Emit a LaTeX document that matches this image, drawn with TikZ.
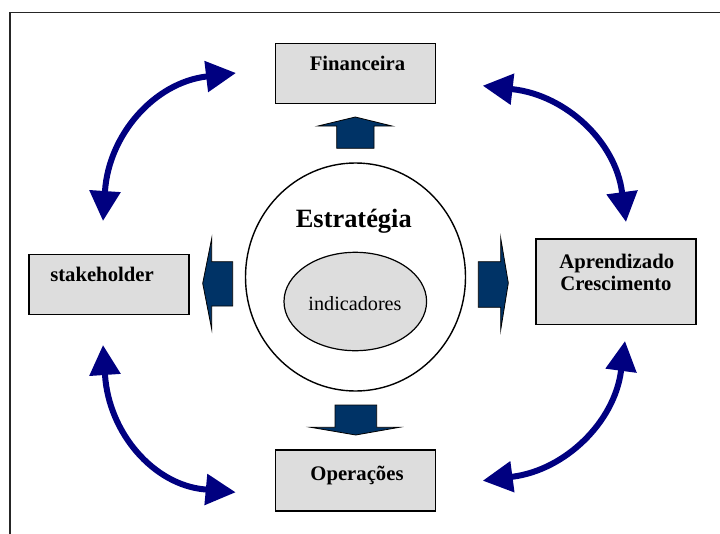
\documentclass[tikz,border=0pt]{standalone}
\usepackage{fontspec}
\setmainfont{Liberation Serif}
\usetikzlibrary{arrows.meta,shapes.geometric}
\definecolor{boxgray}{HTML}{DDDDDD}
\definecolor{blockblue}{HTML}{003366}
\definecolor{arcblue}{HTML}{000080}
\begin{document}
\begin{tikzpicture}[x=1pt,y=-1pt,
  panel/.style={draw=black, line width=1.4pt, fill=boxgray, minimum width=160pt, minimum height=60pt, inner sep=0pt},
  lbl/.style={font=\fontsize{20.7}{21.7}\selectfont\bfseries, anchor=base, inner sep=0pt},
  block/.style={fill=blockblue, draw=black, line width=0.8pt, line join=miter, miter limit=25},
  cycle arrow/.style={draw=arcblue, line width=6pt,
    {Triangle[length=30pt,width=30pt]}-{Triangle[length=30pt,width=30pt]}}
]
\useasboundingbox (0,0) rectangle (720,533);

% outer frame, open towards the right and bottom edges
\draw[line width=1.5pt, black!85] (9.8,560) -- (9.8,12.6) -- (740,12.6);

% perspective boxes
\node[panel] (fin) at (355.7,73.3) {};
\node[lbl] (finlbl) at (357.5,70.7) {Financeira};

\node[panel] (stk) at (109,284.2) {};
\node[lbl] (stklbl) at (102,281.7) {stakeholder};

\node[panel, minimum height=85.3pt] (apr) at (616,281.7) {};
\node[lbl] (aprlbl1) at (616.8,268.3) {Aprendizado};
\node[lbl] (aprlbl2) at (616,290) {Crescimento};

\node[panel, minimum height=61pt] (ope) at (355.3,480.5) {};
\node[lbl] (opelbl) at (357,480) {Operações};

% central strategy circle with the indicator ellipse
\node[ellipse, draw=black, line width=1.4pt, fill=white, inner sep=0pt,
      minimum width=220pt, minimum height=228pt] (estr) at (355.5,277) {};
\node[font=\fontsize{26.4}{28}\selectfont\bfseries, anchor=base, inner sep=0pt] (estrlbl) at (353.8,227) {Estratégia};
\node[ellipse, draw=black, line width=1.2pt, fill=boxgray, inner sep=0pt,
      minimum width=142.6pt, minimum height=98.4pt,
      font=\fontsize{20.2}{22}\selectfont] (ind) at (355.3,301.5) {};
\node[font=\fontsize{20.2}{22}\selectfont, anchor=base, inner sep=0pt] (indlbl) at (355,310) {indicadores};

% block arrows pointing out of the strategy circle
\path[block] (336.7,148.3) -- (336.7,126) -- (318,126) -- (355.3,117) -- (392,126) -- (374,126) -- (374,148.3) -- cycle;
\path[block] (335,405) -- (376.7,405) -- (376.7,427.3) -- (399.3,427.3) -- (355.7,435) -- (310.7,427.3) -- (335,427.3) -- cycle;
\path[block] (232.7,261.7) -- (211.7,261.7) -- (211.7,238.3) -- (202.7,283.3) -- (211.7,329.3) -- (211.7,306) -- (232.7,306) -- cycle;
\path[block] (478.3,261.7) -- (500.7,261.7) -- (500.7,238) -- (508.3,283) -- (500.7,330) -- (500.7,307.3) -- (478.3,307.3) -- cycle;

% tips and bases of the curved double arrows
\coordinate (tlA) at (236,73);      \coordinate (tlAb) at (206.5,76.5);
\coordinate (tlB) at (103,221);     \coordinate (tlBb) at (105,191);
\coordinate (trA) at (482.7,85.7);  \coordinate (trAb) at (512.8,89.2);
\coordinate (trB) at (626,222);     \coordinate (trBb) at (622,192);
\coordinate (blA) at (103,345);     \coordinate (blAb) at (105,375);
\coordinate (blB) at (235.7,492.3); \coordinate (blBb) at (204.5,489.4);
\coordinate (brA) at (625,341);     \coordinate (brAb) at (621,371);
\coordinate (brB) at (482.7,480.7); \coordinate (brBb) at (512.8,476.7);

\draw[cycle arrow] (tlA) -- (tlAb) .. controls (154.5,82.8) and (108.9,134.4) .. (tlBb) -- (tlB);
\draw[cycle arrow] (trA) -- (trAb) .. controls (566.2,95.4) and (615.3,141.7) .. (trBb) -- (trB);
\draw[cycle arrow] (blA) -- (blAb) .. controls (108.9,433.2) and (153.7,484.7) .. (blBb) -- (blB);
\draw[cycle arrow] (brA) -- (brAb) .. controls (614.2,422.2) and (565.5,469.7) .. (brBb) -- (brB);
\end{tikzpicture}
\end{document}
